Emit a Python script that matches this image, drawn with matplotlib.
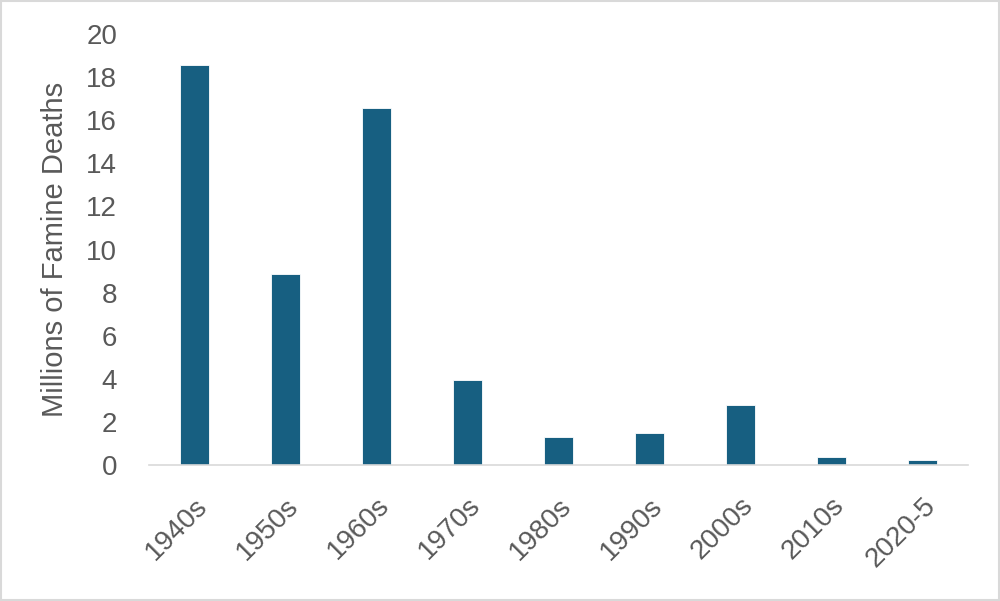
import numpy as np
import matplotlib.pyplot as plt
from matplotlib.patches import Rectangle

plt.rcParams['font.family'] = ['Liberation Sans', 'DejaVu Sans']

# Datos
decadas = ["1940s", "1950s", "1960s", "1970s", "1980s", "1990s", "2000s", "2010s", "2020-5"]
muertes = [18.56, 8.86, 16.57, 3.95, 1.30, 1.49, 2.78, 0.37, 0.23]

gris = "#595959"

fig = plt.figure(figsize=(10, 6.01), dpi=100)
ax = fig.add_axes([0.149, 0.2263, 0.819, 0.7171])

x = np.arange(len(decadas))
ax.bar(x, muertes, width=0.31, color="#175F81", edgecolor="white", linewidth=0.6)

ax.set_xlim(-0.5, len(decadas) - 0.5)
ax.set_ylim(0, 20)
ax.set_yticks(range(0, 21, 2))
ax.set_xticks(x)
ax.set_xticklabels(decadas, rotation=45, ha="right", rotation_mode="anchor")
ax.tick_params(axis="both", length=0, labelsize=20, labelcolor=gris)
ax.tick_params(axis="y", pad=23)
ax.tick_params(axis="x", pad=20)
ax.set_ylabel("Millions of Famine Deaths", fontsize=21, color=gris, labelpad=12)

for lado in ["top", "right", "left"]:
    ax.spines[lado].set_visible(False)
ax.spines["bottom"].set_color("#D9D9D9")
ax.spines["bottom"].set_linewidth(1.2)

fig.patches.append(Rectangle((0.001, 0.001), 0.998, 0.997, transform=fig.transFigure,
                             fill=False, edgecolor="#D9D9D9", linewidth=1.5))

fig.savefig("out.png", dpi=100)
